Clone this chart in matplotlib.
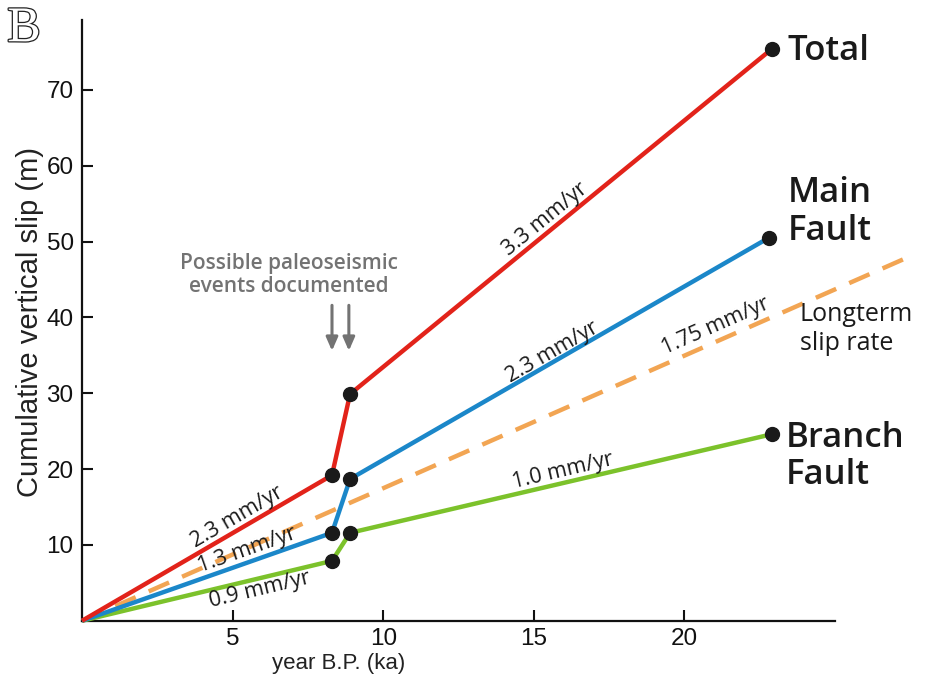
import numpy as np
import matplotlib
matplotlib.use("Agg")
import matplotlib.pyplot as plt
import matplotlib.patheffects as pe

# ---------------- data ----------------
total_x = [0, 8.3, 8.9, 22.9]
total_y = [0, 19.2, 29.9, 75.4]
main_x = [0, 8.3, 8.9, 22.8]
main_y = [0, 11.6, 18.7, 50.5]
branch_x = [0, 8.3, 8.9, 22.9]
branch_y = [0, 7.9, 11.6, 24.6]
longterm_x = [0, 27.4]
longterm_y = [0, 47.9]
event_x = [8.3, 8.86]

x_ticks = [5, 10, 15, 20]
y_ticks = [10, 20, 30, 40, 50, 60, 70]

RED = "#e2231a"
BLUE = "#1b87c9"
GREEN = "#7cc22b"
ORANGE = "#f2a553"
DOT = "#1a1a1a"
GRAY = "#737373"

W, H = 931, 676
fig = plt.figure(figsize=(W / 100, H / 100), dpi=100)
ax = fig.add_axes([82 / W, 1 - 620.8 / H, 753 / W, 600.6 / H])
ax.set_xlim(0, 25)
ax.set_ylim(0, 79.2)

for s in ["top", "right"]:
    ax.spines[s].set_visible(False)
for s in ["left", "bottom"]:
    ax.spines[s].set_linewidth(1.6)
    ax.spines[s].set_color("#111111")

ax.set_xticks(x_ticks)
ax.set_yticks(y_ticks)
ax.tick_params(direction="in", length=8, width=1.5, colors="#111111")
ax.tick_params(axis="x", pad=5)
ax.tick_params(axis="y", pad=6)
tick_font = dict(family=["Liberation Sans Narrow", "Liberation Sans", "DejaVu Sans"], size=17.5)
ax.set_xticklabels([str(v) for v in x_ticks], **tick_font)
ax.set_yticklabels([str(v) for v in y_ticks], **tick_font)

# lines
ax.plot(longterm_x, longterm_y, color=ORANGE, lw=3.2, dashes=(5, 3.2), clip_on=False, zorder=2)
ax.plot(branch_x, branch_y, color=GREEN, lw=3.2, clip_on=False, zorder=3, solid_capstyle="butt")
ax.plot(main_x, main_y, color=BLUE, lw=3.2, clip_on=False, zorder=3, solid_capstyle="butt")
ax.plot(total_x, total_y, color=RED, lw=3.2, clip_on=False, zorder=3, solid_capstyle="butt")
for xs, ys in [(total_x, total_y), (main_x, main_y), (branch_x, branch_y)]:
    ax.plot(xs[1:], ys[1:], "o", color=DOT, ms=10, clip_on=False, zorder=5)


def angle_of(x0, y0, x1, y1):
    p0 = ax.transData.transform((x0, y0))
    p1 = ax.transData.transform((x1, y1))
    return np.degrees(np.arctan2(p1[1] - p0[1], p1[0] - p0[0]))


rate_font = dict(family=["Open Sans", "DejaVu Sans"], size=15.5, weight="medium", color="#1a1a1a",
                 ha="center", va="center", rotation_mode="anchor")

ax.text(15.37, 53.0, "3.3 mm/yr", rotation=angle_of(total_x[2], total_y[2], total_x[3], total_y[3]), **rate_font)
ax.text(15.63, 35.4, "2.3 mm/yr", rotation=angle_of(main_x[2], main_y[2], main_x[3], main_y[3]), **rate_font)
ax.text(21.04, 38.9, "1.75 mm/yr", rotation=angle_of(longterm_x[0], longterm_y[0], longterm_x[1], longterm_y[1]), **rate_font)
ax.text(5.14, 13.7, "2.3 mm/yr", rotation=angle_of(total_x[0], total_y[0], total_x[1], total_y[1]), **rate_font)
ax.text(5.48, 9.3, "1.3 mm/yr", rotation=angle_of(main_x[0], main_y[0], main_x[1], main_y[1]), **rate_font)
ax.text(5.91, 4.1, "0.9 mm/yr", rotation=angle_of(branch_x[0], branch_y[0], branch_x[1], branch_y[1]), **rate_font)
ax.text(15.96, 19.7, "1.0 mm/yr", rotation=angle_of(branch_x[2], branch_y[2], branch_x[3], branch_y[3]), **rate_font)

big_font = dict(family=["Open Sans", "DejaVu Sans"], size=25, weight="semibold", color="#1a1a1a",
                ha="left", va="center", linespacing=1.13)
ax.text(23.43, 75.1, "Total", clip_on=False, **big_font)
ax.text(23.43, 53.9, "Main\nFault", clip_on=False, **big_font)
ax.text(23.36, 21.7, "Branch\nFault", clip_on=False, **big_font)
ax.text(23.83, 38.5, "Longterm\nslip rate", clip_on=False, family=["Open Sans", "DejaVu Sans"], size=18,
        weight="medium", color="#1a1a1a", ha="left", va="center", linespacing=1.2)

ax.text(6.87, 45.6, "Possible paleoseismic\nevents documented", family=["Open Sans", "DejaVu Sans"],
        size=15, weight="semibold", color=GRAY, ha="center", va="center", linespacing=1.15)
for ex in event_x:
    ax.annotate("", xy=(ex, 35.6), xytext=(ex, 41.6),
                arrowprops=dict(arrowstyle="-|>,head_length=0.8,head_width=0.35", color=GRAY, lw=2.2,
                                shrinkA=0, shrinkB=0))

fig.text(30 / W, 1 - 322 / H, "Cumulative vertical slip (m)", rotation=90, ha="center", va="center",
         family=["Liberation Sans", "DejaVu Sans"], size=21, color="#222222")
fig.text(339 / W, 1 - 664 / H, "year B.P. (ka)", ha="center", va="center",
         family=["Liberation Sans Narrow", "Liberation Sans", "DejaVu Sans"], size=16, color="#222222")

fig.text(24 / W, 1 - 29 / H, "B", ha="center", va="center", family=["Liberation Serif", "DejaVu Serif"],
         size=36, color="white",
         path_effects=[pe.withStroke(linewidth=1.8, foreground="#222222")])

fig.savefig("out.png", dpi=100)
